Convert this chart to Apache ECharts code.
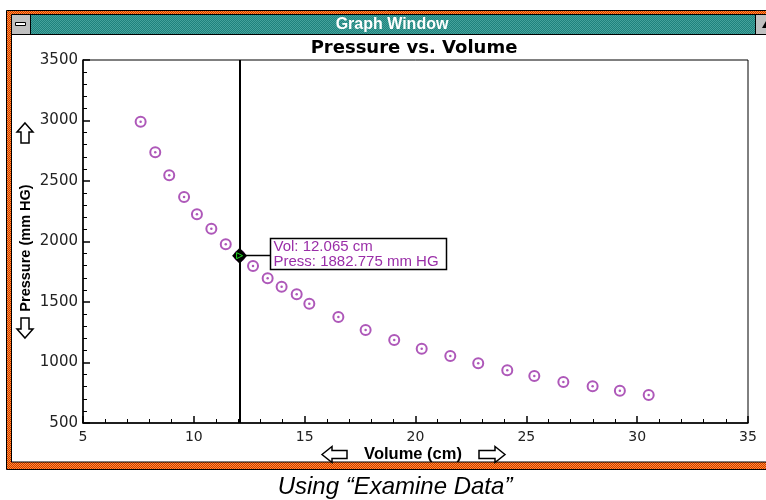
<!DOCTYPE html>
<html><head><meta charset="utf-8">
<script src="https://cdn.jsdelivr.net/npm/echarts@6/dist/echarts.min.js"></script>
<style>html,body{margin:0;padding:0;background:#fff}#c{width:766px;height:500px}</style>
</head><body><div id="c"></div>
<script>
// ---- data ----
const volume = [7.60, 8.26, 8.89, 9.56, 10.14, 10.79, 11.44, 12.065, 12.67, 13.33, 13.96, 14.64, 15.21, 16.52, 17.75, 19.04, 20.28, 21.57, 22.83, 24.14, 25.36, 26.67, 27.99, 29.22, 30.52];
const pressure = [2990, 2737, 2547, 2368, 2225, 2106, 1977, 1882.775, 1798, 1696, 1627, 1564, 1486, 1376, 1269, 1186, 1114, 1054, 993, 935, 888, 839, 803, 767, 731];
const examinedIndex = 7;
const xTicks = [5, 10, 15, 20, 25, 30, 35];
const yTicks = [500, 1000, 1500, 2000, 2500, 3000, 3500];
const windowTitle = 'Graph Window';
const chartTitle = 'Pressure vs. Volume';
const xName = 'Volume (cm)';
const yName = 'Pressure (mm HG)';
const caption = 'Using \u201CExamine Data\u201D';

const PURPLE = '#9a2ea8';
const pts = volume.map((v, i) => [v, pressure[i]]);

function pattern(a, b) {
  const c = document.createElement('canvas');
  c.width = 2; c.height = 2;
  const g = c.getContext('2d');
  g.fillStyle = a; g.fillRect(0, 0, 2, 2);
  g.fillStyle = b; g.fillRect(0, 0, 1, 1); g.fillRect(1, 1, 1, 1);
  return { image: c, repeat: 'repeat' };
}
const framePat = pattern('#dc2008', '#f8a828');
const barPat = pattern('#1e827c', '#46a29c');

const chart = echarts.init(document.getElementById('c'), null, { renderer: 'canvas' });
const tickFont = 'DejaVu Sans';

function arrow(points) {
  return { type: 'polygon', shape: { points: points }, style: { fill: '#fff', stroke: '#000', lineWidth: 1.5 }, z: 5 };
}

const chrome = [
  { type: 'rect', shape: { x: 6.5, y: 10.5, width: 800, height: 459 }, style: { fill: framePat, stroke: '#000', lineWidth: 1 }, z: -10 },
  { type: 'rect', shape: { x: 11.5, y: 14.5, width: 800, height: 447.5 }, style: { fill: '#fff', stroke: '#000', lineWidth: 1 }, z: -9 },
  // title bar
  { type: 'rect', shape: { x: 31, y: 15, width: 724, height: 19 }, style: { fill: barPat }, z: -8 },
  { type: 'line', shape: { x1: 12, y1: 34.5, x2: 766, y2: 34.5 }, style: { stroke: '#000', lineWidth: 1 }, z: -8 },
  // system button
  { type: 'rect', shape: { x: 12, y: 15, width: 18, height: 19 }, style: { fill: '#c0c0c0' }, z: -8 },
  { type: 'line', shape: { x1: 30.5, y1: 15, x2: 30.5, y2: 34 }, style: { stroke: '#000', lineWidth: 1 }, z: -8 },
  { type: 'rect', shape: { x: 15.5, y: 22.5, width: 10, height: 3 }, style: { fill: '#fff', stroke: '#000', lineWidth: 1 }, z: -7 },
  // right button
  { type: 'rect', shape: { x: 756, y: 15, width: 12, height: 19 }, style: { fill: '#c0c0c0' }, z: -8 },
  { type: 'line', shape: { x1: 755.5, y1: 15, x2: 755.5, y2: 34 }, style: { stroke: '#000', lineWidth: 1 }, z: -8 },
  { type: 'polygon', shape: { points: [[766, 21], [766, 28], [762, 28]] }, style: { fill: '#000' }, z: -7 },
  { type: 'text', x: 392, y: 25, style: { text: windowTitle, fill: '#fff', font: 'bold 16px "Liberation Sans", Arial', textAlign: 'center', textVerticalAlign: 'middle' }, z: -7 },
  // chart title
  { type: 'text', x: 414, y: 48, style: { text: chartTitle, fill: '#000', font: 'bold 18px "DejaVu Sans"', textAlign: 'center', textVerticalAlign: 'middle' }, z: 5 },
  // y axis name with arrows
  { type: 'text', x: 26, y: 248, rotation: Math.PI / 2, style: { text: yName, fill: '#000', font: 'bold 14.5px "Liberation Sans", Arial', textAlign: 'center', textVerticalAlign: 'middle' }, z: 5 },
  arrow([[25, 123], [33, 132], [29, 132], [29, 143], [21, 143], [21, 132], [17, 132]]),
  arrow([[25, 338], [33, 329], [29, 329], [29, 318], [21, 318], [21, 329], [17, 329]]),
  // x axis name with arrows
  { type: 'text', x: 413, y: 454, style: { text: xName, fill: '#000', font: 'bold 16.5px "Liberation Sans", Arial', textAlign: 'center', textVerticalAlign: 'middle' }, z: 5 },
  arrow([[322, 454.5], [332, 446.5], [332, 450.5], [347, 450.5], [347, 458.5], [332, 458.5], [332, 462.5]]),
  arrow([[505, 454.5], [495, 446.5], [495, 450.5], [479, 450.5], [479, 458.5], [495, 458.5], [495, 462.5]]),
  // caption
  { type: 'text', x: 395, y: 487, style: { text: caption, fill: '#000', font: 'italic 24px "Liberation Sans", Arial', textAlign: 'center', textVerticalAlign: 'middle' }, z: 5 }
];

chart.setOption({
  animation: false,
  backgroundColor: '#fff',
  grid: { left: 83, right: 18, top: 60, bottom: 77, show: true, borderColor: '#000', borderWidth: 1, backgroundColor: 'transparent', z: 1 },
  xAxis: {
    type: 'value', min: xTicks[0], max: xTicks[xTicks.length - 1], interval: xTicks[1] - xTicks[0],
    axisLine: { show: true, onZero: false, lineStyle: { color: '#000', width: 1.5 } },
    axisTick: { show: true, inside: true, length: 7, lineStyle: { color: '#000', width: 1.5 } },
    minorTick: { show: true, splitNumber: 5, length: 4, lineStyle: { color: '#000', width: 1 } },
    splitLine: { show: false },
    axisLabel: { color: '#222', fontSize: 14, fontFamily: tickFont, margin: 7, formatter: v => String(v) }
  },
  yAxis: {
    type: 'value', min: yTicks[0], max: yTicks[yTicks.length - 1], interval: yTicks[1] - yTicks[0],
    axisLine: { show: true, onZero: false, lineStyle: { color: '#000', width: 1.5 } },
    axisTick: { show: true, inside: true, length: 7, lineStyle: { color: '#000', width: 1.5 } },
    minorTick: { show: true, splitNumber: 5, length: 4, lineStyle: { color: '#000', width: 1 } },
    splitLine: { show: false },
    axisLabel: { color: '#222', fontSize: 15, fontFamily: tickFont, margin: 5, formatter: v => String(v) }
  },
  series: [
    {
      type: 'scatter', data: pts, symbol: 'emptyCircle', symbolSize: 10,
      itemStyle: { color: PURPLE, borderColor: PURPLE, borderWidth: 1.6 }, z: 3,
      markLine: {
        silent: true, symbol: 'none', animation: false,
        lineStyle: { color: '#000', width: 2, type: 'solid' },
        label: { show: false },
        data: [{ xAxis: volume[examinedIndex] }]
      }
    },
    {
      type: 'scatter', data: pts, symbol: 'circle', symbolSize: 2.5,
      itemStyle: { color: PURPLE }, z: 4,
      markPoint: {
        silent: true, animation: false,
        data: [
          { coord: [volume[examinedIndex], pressure[examinedIndex]], symbol: 'diamond', symbolSize: [15, 16], itemStyle: { color: '#000' }, label: { show: false } },
          { coord: [volume[examinedIndex], pressure[examinedIndex]], symbol: 'triangle', symbolRotate: -90, symbolSize: [6, 6], itemStyle: { color: '#000', borderColor: '#22dd22', borderWidth: 1 }, label: { show: false } }
        ]
      }
    }
  ],
  graphic: chrome
});

// examine-data readout box, placed through the chart's own scales
const p = chart.convertToPixel({ gridIndex: 0 }, [volume[examinedIndex], pressure[examinedIndex]]);
const bx = Math.round(p[0]) + 30.5, by = Math.round(p[1]) - 17.5;
chart.setOption({
  graphic: chrome.concat([
    { type: 'line', shape: { x1: p[0] + 6, y1: Math.round(p[1]) - 0.5, x2: bx, y2: Math.round(p[1]) - 0.5 }, style: { stroke: '#000', lineWidth: 1.5 }, z: 6 },
    { type: 'rect', shape: { x: bx, y: by, width: 176, height: 31 }, style: { fill: '#fff', stroke: '#000', lineWidth: 1.5 }, z: 6 },
    { type: 'text', x: bx + 3, y: by + 8.5, style: { text: 'Vol: ' + volume[examinedIndex].toFixed(3) + ' cm', fill: PURPLE, font: '15px "Liberation Sans", Arial', textVerticalAlign: 'middle' }, z: 7 },
    { type: 'text', x: bx + 3, y: by + 23, style: { text: 'Press: ' + pressure[examinedIndex].toFixed(3) + ' mm HG', fill: PURPLE, font: '15px "Liberation Sans", Arial', textVerticalAlign: 'middle' }, z: 7 }
  ])
}, { replaceMerge: ['graphic'] });
</script>
</body></html>
